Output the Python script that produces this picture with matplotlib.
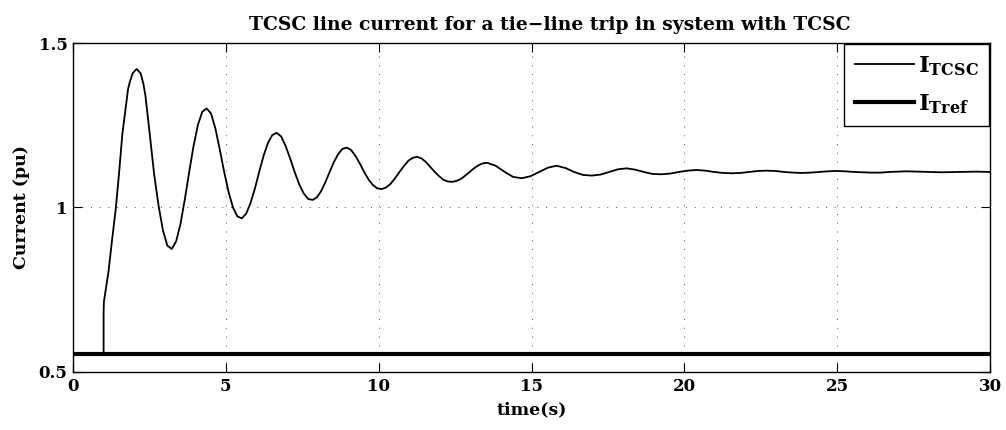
import matplotlib
matplotlib.use("Agg")
import matplotlib.pyplot as plt

plt.rcParams['font.family'] = ['DejaVu Serif']
plt.rcParams['font.weight'] = 'bold'
plt.rcParams['mathtext.fontset'] = 'dejavuserif'

# ---- data ----
title = "TCSC line current for a tie\u2212line trip in system with TCSC"
xlabel = "time(s)"
ylabel = "Current (pu)"
label_tcsc = r"$\mathbf{I_{TCSC}}$"
label_tref = r"$\mathbf{I_{Tref}}$"

x_ticks = [0, 5, 10, 15, 20, 25, 30]
y_ticks = [0.5, 1.0, 1.5]
y_tick_labels = ["0.5", "1", "1.5"]

t_tcsc = [
    0.0, 1.0, 1.0, 1.01, 1.16, 1.27, 1.40, 1.51, 1.61, 1.72, 1.80, 1.86, 1.95, 2.08,
    2.21, 2.30, 2.368, 2.46, 2.56, 2.655, 2.799, 2.943, 3.086, 3.23,
    3.373, 3.515, 3.658, 3.80, 3.943, 4.085, 4.228, 4.37,
    4.514, 4.658, 4.801, 4.945, 5.089, 5.233, 5.376, 5.52,
    5.663, 5.805, 5.948, 6.09, 6.233, 6.375, 6.518, 6.66,
    6.808, 6.955, 7.103, 7.25, 7.398, 7.545, 7.693, 7.84,
    7.979, 8.118, 8.256, 8.395, 8.534, 8.673, 8.811, 8.95,
    9.094, 9.238, 9.381, 9.525, 9.669, 9.813, 9.956, 10.10,
    10.245, 10.39, 10.535, 10.68, 10.825, 10.97, 11.115, 11.26,
    11.404, 11.548, 11.691, 11.835, 11.979, 12.123, 12.266, 12.41,
    12.551, 12.693, 12.834, 12.975, 13.116, 13.258, 13.399, 13.54,
    13.825, 14.11, 14.395, 14.68,
    14.965, 15.25, 15.535, 15.82,
    16.108, 16.395, 16.683, 16.97,
    17.255, 17.54, 17.825, 18.11,
    18.393, 18.675, 18.958, 19.24,
    19.53, 19.82, 20.11, 20.40,
    20.688, 20.975, 21.263, 21.55,
    21.835, 22.12, 22.405, 22.69,
    22.978, 23.265, 23.553, 23.84,
    24.125, 24.41, 24.695, 24.98,
    25.268, 25.555, 25.843, 26.13,
    26.415, 26.70, 26.985, 27.27,
    28.40, 29.55, 30.0,
]
i_tcsc = [
    0.555, 0.555, 0.683, 0.714, 0.805, 0.896, 0.998, 1.109, 1.220, 1.301, 1.360, 1.382, 1.408, 1.421,
    1.408, 1.377, 1.340, 1.265, 1.180, 1.100, 1.005, 0.930, 0.884, 0.874,
    0.897, 0.950, 1.025, 1.108, 1.187, 1.251, 1.291, 1.301,
    1.286, 1.240, 1.176, 1.108, 1.047, 1.000, 0.973, 0.967,
    0.981, 1.013, 1.057, 1.108, 1.157, 1.196, 1.220, 1.227,
    1.216, 1.187, 1.149, 1.108, 1.071, 1.043, 1.026, 1.023,
    1.031, 1.050, 1.077, 1.108, 1.138, 1.162, 1.178, 1.182,
    1.175, 1.157, 1.134, 1.108, 1.085, 1.068, 1.058, 1.056,
    1.061, 1.072, 1.089, 1.108, 1.126, 1.142, 1.151, 1.154,
    1.149, 1.138, 1.123, 1.108, 1.095, 1.084, 1.079, 1.078,
    1.081, 1.087, 1.097, 1.108, 1.119, 1.128, 1.134, 1.136,
    1.127, 1.109, 1.093, 1.089,
    1.095, 1.108, 1.121, 1.127,
    1.120, 1.108, 1.099, 1.097,
    1.100, 1.108, 1.116, 1.119,
    1.115, 1.108, 1.102, 1.101,
    1.103, 1.108, 1.112, 1.114,
    1.112, 1.108, 1.105, 1.104,
    1.105, 1.108, 1.111, 1.112,
    1.111, 1.108, 1.106, 1.105,
    1.106, 1.108, 1.110, 1.111,
    1.110, 1.108, 1.107, 1.106,
    1.106, 1.108, 1.109, 1.110,
    1.107, 1.109, 1.108,
]
t_tref = [0.0, 30.0]
i_tref = [0.555, 0.555]

# ---- figure ----
fig = plt.figure(figsize=(10.06, 4.30), dpi=100)
ax = fig.add_axes([0.0726, 0.1349, 0.9115, 0.7651])

ax.plot(t_tcsc, i_tcsc, color='black', lw=1.3, label=label_tcsc, zorder=3,
         solid_joinstyle='round')
ax.plot(t_tref, i_tref, color='black', lw=3.0, label=label_tref, zorder=4)

ax.set_xlim(0, 30)
ax.set_ylim(0.5, 1.5)
ax.set_xticks(x_ticks)
ax.set_xticklabels([str(v) for v in x_ticks])
ax.set_yticks(y_ticks)
ax.set_yticklabels(y_tick_labels)

ax.grid(True, color='#555555', linestyle=(0, (1, 8)), linewidth=0.7)
ax.tick_params(direction='in', length=6.5, width=0.8, top=True, right=True,
               labelsize=12, pad=4)
for lab in ax.get_xticklabels() + ax.get_yticklabels():
    lab.set_fontweight('bold')
for sp in ax.spines.values():
    sp.set_linewidth(1.0)

ax.set_xlabel(xlabel, fontsize=12.5, fontweight='bold', labelpad=5)
ax.set_ylabel(ylabel, fontsize=12.5, fontweight='bold', labelpad=6)
ax.set_title(title, fontsize=13.5, fontweight='bold', x=0.52, pad=9)

leg = ax.legend(loc='upper right', fontsize=16.5, frameon=True, fancybox=False,
                edgecolor='black', framealpha=1, borderaxespad=0.05,
                handlelength=2.6, handletextpad=0.15, labelspacing=0.62,
                borderpad=0.45)
leg.get_frame().set_linewidth(1.0)

fig.savefig("out.png", dpi=100)
